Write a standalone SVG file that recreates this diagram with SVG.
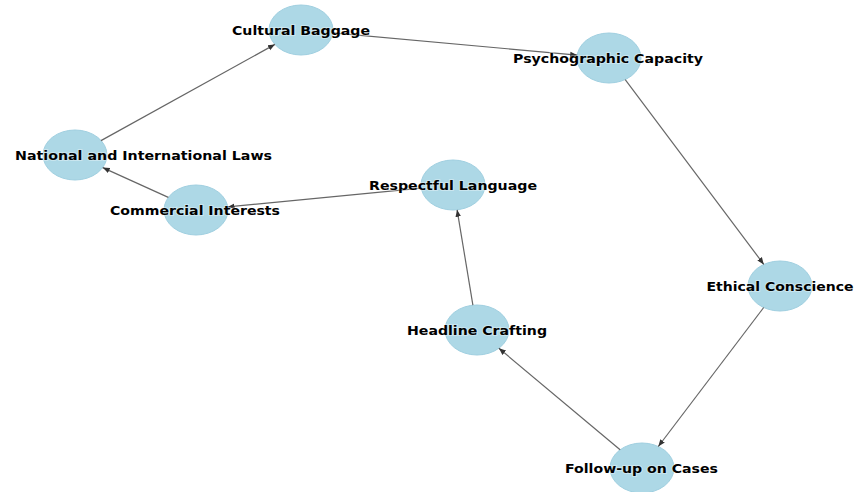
<svg xmlns="http://www.w3.org/2000/svg" width="855" height="492" viewBox="0 0 855 492">
<defs>
<style>
.node ellipse{fill:#add8e6;stroke:#9fcfe0;stroke-width:1}
.node text{font-family:"DejaVu Sans",sans-serif;font-weight:bold;font-size:12.5px;fill:#000;text-anchor:middle;stroke:#ffffff;stroke-opacity:0.35;stroke-width:2;paint-order:stroke}
.edges line{stroke:#666;stroke-width:1.2}
</style>
<marker id="arr" viewBox="0 0 10 10" refX="10" refY="5" markerWidth="7" markerHeight="7" markerUnits="userSpaceOnUse" orient="auto">
<path d="M0,1 L10,5 L0,9 Z" fill="#333"/>
</marker>
</defs>
<rect width="855" height="492" fill="#fff"/>
<g id="nodes-shapes">
<g id="n-cultural" class="node"><ellipse cx="301" cy="30" rx="32" ry="25"/></g>
<g id="n-psycho" class="node"><ellipse cx="609" cy="58" rx="32" ry="25"/></g>
<g id="n-national" class="node"><ellipse cx="75" cy="155" rx="32" ry="25"/></g>
<g id="n-commercial" class="node"><ellipse cx="196" cy="210" rx="32" ry="25"/></g>
<g id="n-respectful" class="node"><ellipse cx="453" cy="185" rx="32" ry="25"/></g>
<g id="n-headline" class="node"><ellipse cx="477" cy="330" rx="32" ry="25"/></g>
<g id="n-ethical" class="node"><ellipse cx="780" cy="286" rx="32" ry="25"/></g>
<g id="n-followup" class="node"><ellipse cx="642" cy="468" rx="32" ry="25"/></g>
</g>
<g id="edges" class="edges">
<line x1="101" y1="140.6" x2="274.9" y2="44.4" marker-end="url(#arr)"/>
<line x1="332.8" y1="32.9" x2="577.2" y2="55.1" marker-end="url(#arr)"/>
<line x1="625.2" y1="79.6" x2="763.8" y2="264.4" marker-end="url(#arr)"/>
<line x1="763.7" y1="307.5" x2="658.3" y2="446.5" marker-end="url(#arr)"/>
<line x1="620.1" y1="449.7" x2="498.9" y2="348.3" marker-end="url(#arr)"/>
<line x1="472.9" y1="305.2" x2="457.1" y2="209.8" marker-end="url(#arr)"/>
<line x1="168.3" y1="197.4" x2="102.7" y2="167.6" marker-end="url(#arr)"/>
<line x1="421.4" y1="188.1" x2="227.6" y2="206.9" marker-end="url(#arr)"/>
</g>
<g id="labels">
<g class="node"><text x="301" y="34.5" textLength="138" lengthAdjust="spacingAndGlyphs">Cultural Baggage</text></g>
<g class="node"><text x="608" y="62.5" textLength="190" lengthAdjust="spacingAndGlyphs">Psychographic Capacity</text></g>
<g class="node"><text x="143.5" y="159.5" textLength="257" lengthAdjust="spacingAndGlyphs">National and International Laws</text></g>
<g class="node"><text x="195" y="214.5" textLength="170" lengthAdjust="spacingAndGlyphs">Commercial Interests</text></g>
<g class="node"><text x="453" y="189.5" textLength="168" lengthAdjust="spacingAndGlyphs">Respectful Language</text></g>
<g class="node"><text x="477" y="334.5" textLength="140" lengthAdjust="spacingAndGlyphs">Headline Crafting</text></g>
<g class="node"><text x="780" y="290.5" textLength="147" lengthAdjust="spacingAndGlyphs">Ethical Conscience</text></g>
<g class="node"><text x="641.5" y="472.5" textLength="153" lengthAdjust="spacingAndGlyphs">Follow-up on Cases</text></g>
</g>
</svg>
